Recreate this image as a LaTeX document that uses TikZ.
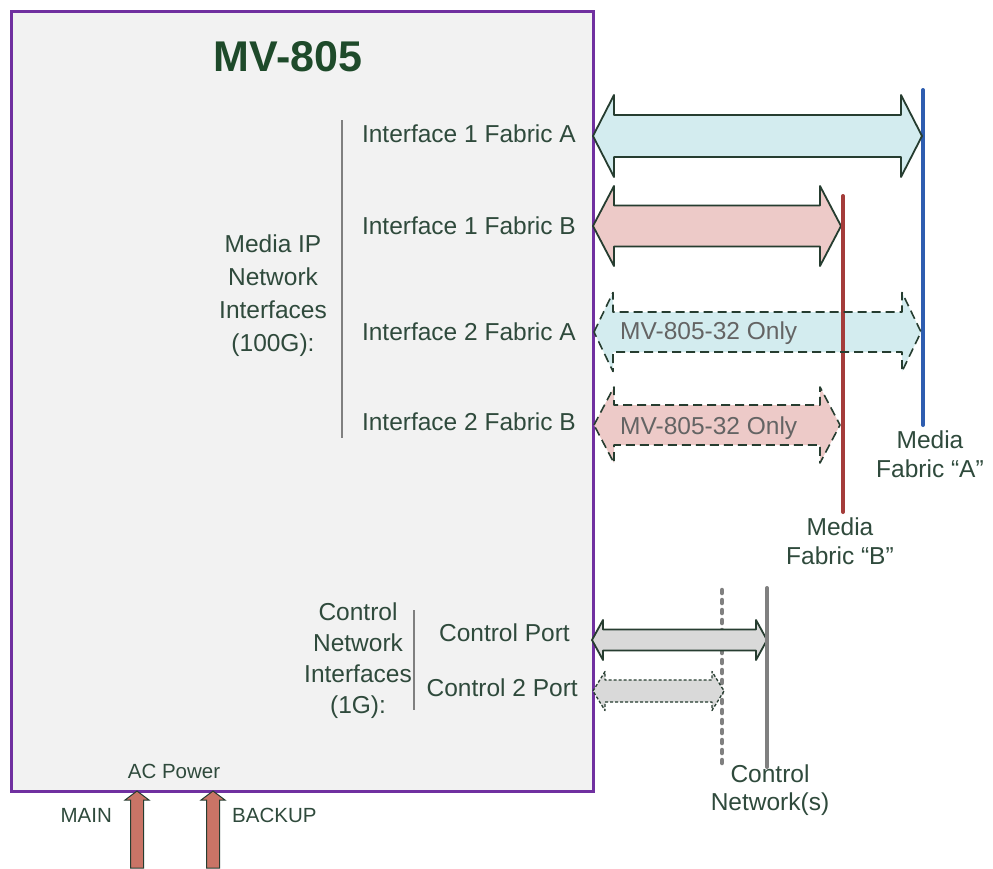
\documentclass[tikz,border=0pt]{standalone}
\usepackage{fontspec}
\setmainfont{Liberation Sans}
\definecolor{tcol}{HTML}{2F4A3C}
\definecolor{titlecol}{HTML}{1E4A2A}
\definecolor{boxfill}{HTML}{F2F2F2}
\definecolor{boxline}{HTML}{7030A0}
\definecolor{cyanfill}{HTML}{D3ECEF}
\definecolor{pinkfill}{HTML}{EDCAC8}
\definecolor{grayfill}{HTML}{D9D9D9}
\definecolor{edgecol}{HTML}{263D30}
\definecolor{bluel}{HTML}{2E5DB0}
\definecolor{redl}{HTML}{A43C3A}
\definecolor{grayl}{HTML}{808080}
\definecolor{powfill}{HTML}{C97466}
\definecolor{onlycol}{HTML}{646464}
\newcommand{\hdblarrow}[7]{%
  \path[#1] (#2,#4) -- (#2+#7,#4-#6) -- (#2+#7,#4-#5) -- (#3-#7,#4-#5) -- (#3-#7,#4-#6) -- (#3,#4)
   -- (#3-#7,#4+#6) -- (#3-#7,#4+#5) -- (#2+#7,#4+#5) -- (#2+#7,#4+#6) -- cycle;}
\newcommand{\uparrowshape}[1]{%
  \path[powarrow] (#1-6.5,868) -- (#1-6.5,800) -- (#1-12,800) -- (#1,791) -- (#1+12,800) -- (#1+6.5,800) -- (#1+6.5,868) -- cycle;}
\tikzset{
  txt/.style={text=tcol, inner sep=0pt, font=\fontsize{24.5}{33}\selectfont},
  small/.style={text=tcol, inner sep=0pt, font=\fontsize{20.5}{24}\selectfont},
  solidarrow/.style={draw=edgecol, line width=1.8pt, line join=round},
  dasharrow/.style={draw=edgecol, line width=1.6pt, dash pattern=on 9pt off 5pt, line join=round},
  finearrow/.style={draw=edgecol, line width=1.3pt, dash pattern=on 3pt off 2pt, line join=round},
  powarrow/.style={fill=powfill, draw=edgecol, line width=1pt, line join=miter},
  groupline/.style={draw=grayl, line width=1.5pt},
}
\begin{document}
\begin{tikzpicture}[x=1pt,y=-1pt]
\useasboundingbox (0,0) rectangle (993,868);
\fill[white] (0,0) rectangle (993,868);
% main box
\node[draw=boxline, fill=boxfill, line width=3pt, minimum width=582pt, minimum height=780pt, anchor=north west, inner sep=0pt] (box) at (10,10) {};
\node[text=titlecol, inner sep=0pt, font=\fontsize{43}{43}\selectfont\bfseries] (title) at (288,57) {MV-805};

% media group
\coordinate (mgt) at (342,120);
\coordinate (mgb) at (342,438);
\draw[groupline] (mgt) -- (mgb);
\node[txt, align=center] (media) at (273,296) {Media IP\\Network\\Interfaces\\(100G):};
\node[txt, anchor=east] (i1a) at (576,134) {Interface 1 Fabric A};
\node[txt, anchor=east] (i1b) at (576,226) {Interface 1 Fabric B};
\node[txt, anchor=east] (i2a) at (576,332) {Interface 2 Fabric A};
\node[txt, anchor=east] (i2b) at (576,422) {Interface 2 Fabric B};

% fabric lines
\coordinate (fat) at (923,90);
\coordinate (fab) at (923,425);
\coordinate (fbt) at (843,196);
\coordinate (fbb) at (843,512);
\draw[bluel, line width=4pt, line cap=round] (fat) -- (fab);

% arrows
\hdblarrow{fill=cyanfill, solidarrow}{593}{922}{136}{21}{41}{21}
\hdblarrow{fill=pinkfill, solidarrow}{593}{841}{226}{20.5}{40}{21}
\hdblarrow{fill=cyanfill}{594}{921}{332}{20}{39.5}{19}
\hdblarrow{fill=pinkfill}{594}{840}{425}{20}{38}{20}
\draw[redl, line width=4pt, line cap=round] (fbt) -- (fbb);
\hdblarrow{dasharrow}{594}{921}{332}{20}{39.5}{19}
\hdblarrow{dasharrow}{594}{840}{425}{20}{38}{20}
\node[txt, text=onlycol, anchor=west] (only1) at (620,333) {MV-805-32 Only};
\node[txt, text=onlycol, anchor=west] (only2) at (620,428) {MV-805-32 Only};

\node[txt, align=center, font=\fontsize{24.5}{28.5}\selectfont] (mfa) at (930,454) {Media\\Fabric “A”};
\node[txt, align=center, font=\fontsize{24.5}{28.5}\selectfont] (mfb) at (840,541) {Media\\Fabric “B”};

% control group
\coordinate (cgt) at (414,610);
\coordinate (cgb) at (414,710);
\draw[groupline] (cgt) -- (cgb);
\node[txt, align=center, font=\fontsize{24.5}{31}\selectfont] (ctrl) at (358,661) {Control\\Network\\Interfaces\\(1G):};
\node[txt, anchor=east] (cp) at (570,633) {Control Port};
\node[txt, anchor=east] (cp2) at (578,688) {Control 2 Port};

\coordinate (cnt) at (767,588);
\coordinate (cnb) at (767,767);
\coordinate (cdt) at (722,590);
\coordinate (cdb) at (722,764);
\draw[grayl, line width=4.5pt, line cap=round, dash pattern=on 3pt off 7pt] (cdt) -- (cdb);
\hdblarrow{fill=grayfill, solidarrow}{592}{767}{640}{10.5}{20}{11}
\draw[grayl, line width=4pt, line cap=round] (cnt) -- (cnb);
\hdblarrow{fill=grayfill, finearrow}{593}{724}{691}{11}{19.5}{12}
\node[txt, align=center, font=\fontsize{24.5}{28.5}\selectfont] (cnet) at (770,790) {Control\\Network(s)};

% power
\node[small] (acp) at (174,771) {AC Power};
\node[small, anchor=east] (mainl) at (112,815) {MAIN};
\node[small, anchor=west] (backl) at (232,815) {BACKUP};
\uparrowshape{137}
\uparrowshape{213}
\end{tikzpicture}
\end{document}
